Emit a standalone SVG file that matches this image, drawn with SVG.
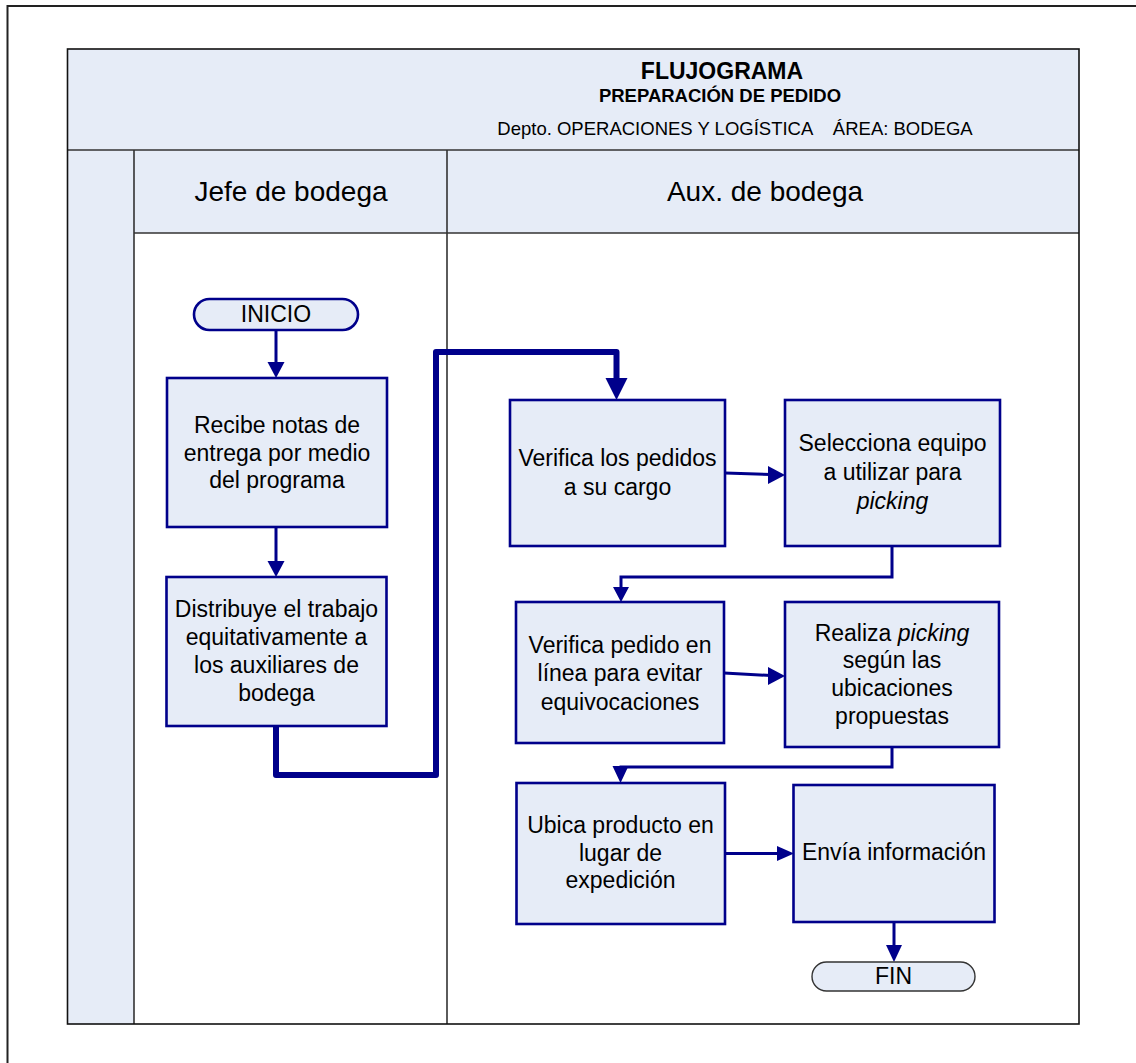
<svg xmlns="http://www.w3.org/2000/svg" width="1136" height="1063" viewBox="0 0 1136 1063">
  <defs>
    <style>
      .page { fill: none; stroke: #222; stroke-width: 2; }
      .frame { stroke: #111; stroke-width: 1.6; }
      .band { fill: #E6ECF7; }
      .grid { stroke: #333; stroke-width: 1.6; }
      .box { fill: #E6ECF7; stroke: #00008B; stroke-width: 2.6; }
      .term { fill: #E6ECF7; stroke: #00008B; stroke-width: 2.6; }
      .termEnd { fill: #E6ECF7; stroke: #333; stroke-width: 1.4; }
      .t { font-family: "Liberation Sans", Arial, sans-serif; font-size: 23px; fill: #000; text-anchor: middle; }
      .lane { font-family: "Liberation Sans", Arial, sans-serif; font-size: 28px; fill: #000; text-anchor: middle; }
      .hd { font-family: "Liberation Sans", Arial, sans-serif; fill: #000; text-anchor: middle; }
      .wire { fill: none; stroke: #00008B; stroke-width: 3; }
      .wireBold { fill: none; stroke: #00008B; stroke-width: 6; stroke-linejoin: round; }
      .head { fill: #00008B; }
    </style>
  </defs>

  <!-- page edges -->
  <path class="page" d="M7.5,1063 V6 H1136"/>

  <!-- swimlane frame -->
  <g id="frame">
    <rect x="67.5" y="49" width="1011.5" height="101" class="band"/>
    <rect x="67.5" y="150" width="66.5" height="874" class="band"/>
    <rect x="134" y="150" width="945" height="83" class="band"/>
    <rect x="134" y="233" width="945" height="791" fill="#fff"/>
    <line class="grid" x1="67.5" y1="150" x2="1079" y2="150"/>
    <line class="grid" x1="134" y1="233" x2="1079" y2="233"/>
    <line class="grid" x1="134" y1="150" x2="134" y2="1024"/>
    <line class="grid" x1="447" y1="150" x2="447" y2="1024"/>
    <rect x="67.5" y="49" width="1011.5" height="975" fill="none" class="frame"/>
  </g>

  <!-- title block -->
  <g id="title">
    <text class="hd" x="722" y="79" font-size="23" font-weight="bold">FLUJOGRAMA</text>
    <text class="hd" x="720" y="102" font-size="18.5" font-weight="bold">PREPARACIÓN DE PEDIDO</text>
    <text class="hd" x="735" y="135" font-size="18.5" xml:space="preserve">Depto. OPERACIONES Y LOGÍSTICA    ÁREA: BODEGA</text>
  </g>

  <!-- lane headers -->
  <g id="lane-jefe"><text class="lane" x="291" y="201">Jefe de bodega</text></g>
  <g id="lane-aux"><text class="lane" x="765" y="201">Aux. de bodega</text></g>

  <!-- connectors -->
  <g id="connectors">
    <path class="wire" d="M276,330 V364"/>
    <polygon class="head" points="267.5,362 284.5,362 276,378"/>
    <path class="wire" d="M276,527 V563"/>
    <polygon class="head" points="267.5,561 284.5,561 276,577"/>
    <path class="wireBold" d="M276,726 V775 H436 V352 H616.5 V382"/>
    <polygon class="head" points="605.5,378 627.5,378 616.5,400"/>
    <path class="wire" d="M725,473 L771,474.5"/>
    <polygon class="head" points="768,466 785,475 768,484"/>
    <path class="wire" d="M892,546 V577 H621 V590"/>
    <polygon class="head" points="613,587 629,587 621,602"/>
    <path class="wire" d="M724,673 L771,675.5"/>
    <polygon class="head" points="768,667 785,676 768,685"/>
    <path class="wire" d="M892,747 V767 H621 V770"/>
    <polygon class="head" points="612.5,766 628.5,766 620.5,783"/>
    <path class="wire" d="M725,853.5 H780"/>
    <polygon class="head" points="777,846 794,853.5 777,861"/>
    <path class="wire" d="M894,922 V948"/>
    <polygon class="head" points="886,945 902,945 894,962"/>
  </g>

  <!-- flow nodes -->
  <g id="inicio">
    <rect class="term" x="194" y="299" width="164" height="31" rx="15.5"/>
    <text class="t" x="276" y="322">INICIO</text>
  </g>
  <g id="recibe-notas">
    <rect class="box" x="167" y="378" width="220" height="149"/>
    <text class="t" x="277" y="433">Recibe notas de</text>
    <text class="t" x="277" y="461">entrega por medio</text>
    <text class="t" x="277" y="488">del programa</text>
  </g>
  <g id="distribuye">
    <rect class="box" x="166.5" y="577" width="220" height="149"/>
    <text class="t" x="276.5" y="617">Distribuye el trabajo</text>
    <text class="t" x="276.5" y="645">equitativamente a</text>
    <text class="t" x="276.5" y="673">los auxiliares de</text>
    <text class="t" x="276.5" y="701">bodega</text>
  </g>
  <g id="verifica-pedidos">
    <rect class="box" x="510" y="400" width="215" height="146"/>
    <text class="t" x="617.5" y="466">Verifica los pedidos</text>
    <text class="t" x="617.5" y="495">a su cargo</text>
  </g>
  <g id="selecciona-equipo">
    <rect class="box" x="785" y="400" width="215" height="146"/>
    <text class="t" x="892.5" y="451">Selecciona equipo</text>
    <text class="t" x="892.5" y="480">a utilizar para</text>
    <text class="t" x="892.5" y="509" font-style="italic">picking</text>
  </g>
  <g id="verifica-linea">
    <rect class="box" x="516" y="602" width="208" height="141"/>
    <text class="t" x="620" y="653">Verifica pedido en</text>
    <text class="t" x="620" y="681">línea para evitar</text>
    <text class="t" x="620" y="710">equivocaciones</text>
  </g>
  <g id="realiza-picking">
    <rect class="box" x="785" y="602" width="214" height="145"/>
    <text class="t" x="892" y="641">Realiza <tspan font-style="italic">picking</tspan></text>
    <text class="t" x="892" y="668">según las</text>
    <text class="t" x="892" y="696">ubicaciones</text>
    <text class="t" x="892" y="724">propuestas</text>
  </g>
  <g id="ubica-producto">
    <rect class="box" x="516.5" y="783" width="208.5" height="141"/>
    <text class="t" x="620.5" y="833">Ubica producto en</text>
    <text class="t" x="620.5" y="861">lugar de</text>
    <text class="t" x="620.5" y="888">expedición</text>
  </g>
  <g id="envia-informacion">
    <rect class="box" x="793.5" y="785" width="201" height="137"/>
    <text class="t" x="894" y="860">Envía información</text>
  </g>
  <g id="fin">
    <rect class="termEnd" x="812" y="962" width="163" height="29" rx="14.5"/>
    <text class="t" x="893.5" y="984">FIN</text>
  </g>
</svg>
